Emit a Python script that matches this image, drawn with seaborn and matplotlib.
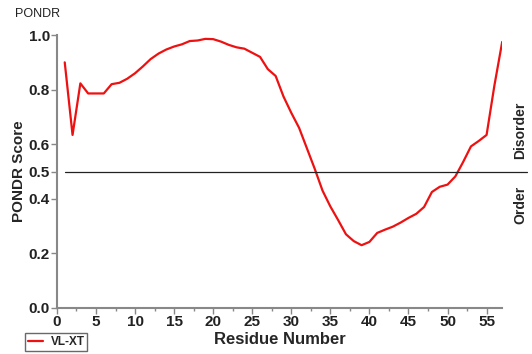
import numpy as np
import pandas as pd
import seaborn as sns
from matplotlib import pyplot as plt
from matplotlib.ticker import MultipleLocator

# PONDR VL-XT scores per residue
residue = np.arange(1, 58)
score = [0.90, 0.634, 0.823, 0.786, 0.786, 0.786, 0.82, 0.825, 0.84, 0.86,
         0.885, 0.912, 0.932, 0.947, 0.958, 0.966, 0.978, 0.980, 0.986, 0.985,
         0.976, 0.964, 0.955, 0.950, 0.935, 0.920, 0.875, 0.850, 0.775, 0.715,
         0.660, 0.585, 0.510, 0.430, 0.372, 0.322, 0.270, 0.245, 0.230, 0.242,
         0.275, 0.287, 0.298, 0.313, 0.330, 0.345, 0.370, 0.425, 0.444, 0.452,
         0.482, 0.535, 0.592, 0.612, 0.634, 0.815, 0.975]
df = pd.DataFrame({'residue': residue, 'score': score})

sns.set_style('white')
plt.rcParams['font.family'] = ['Liberation Sans', 'DejaVu Sans']

fig = plt.figure(figsize=(5.32, 3.54), dpi=100)
ax = fig.add_axes([0.107, 0.13, 0.837, 0.771])

sns.lineplot(data=df, x='residue', y='score', color='#ee1111', lw=1.6, ax=ax, label='VL-XT')
ax.axhline(0.5, xmin=0.018, xmax=1.055, color='#222222', lw=0.9, clip_on=False)

ax.set_xlim(0, 57)
ax.set_ylim(0, 1.0)
ax.set_xticks(np.arange(0, 56, 5))
ax.xaxis.set_minor_locator(MultipleLocator(2.5))
ax.set_yticks([0.0, 0.2, 0.4, 0.5, 0.6, 0.8, 1.0])
ax.set_yticklabels(['0.0', '0.2', '0.4', '0.5', '0.6', '0.8', '1.0'])
ax.tick_params(axis='both', which='major', length=4, width=1, color='#888888',
               labelsize=11, pad=1, bottom=True, left=True)
ax.tick_params(axis='x', which='minor', length=2.5, width=1, color='#888888', bottom=True)
for lab in ax.get_xticklabels() + ax.get_yticklabels():
    lab.set_fontweight('bold')
    lab.set_color('#222222')

sns.despine(ax=ax)
for s in ['left', 'bottom']:
    ax.spines[s].set_color('#888888')
    ax.spines[s].set_linewidth(1.5)

ax.set_xlabel('Residue Number', fontsize=12, fontweight='bold', labelpad=2)
ax.set_ylabel('PONDR Score', fontsize=11, fontweight='bold', labelpad=2)

fig.text(0.028, 0.96, 'PONDR', fontsize=9, va='center', color='#222222')
fig.text(0.978, 0.633, 'Disorder', rotation=90, fontsize=10, fontweight='bold',
         ha='center', va='center')
fig.text(0.978, 0.422, 'Order', rotation=90, fontsize=10, fontweight='bold',
         ha='center', va='center')

ax.get_legend().remove()
h, l = ax.get_legend_handles_labels()
leg = fig.legend(h, l, loc='lower left', bbox_to_anchor=(0.036, -0.008),
                 frameon=True, fancybox=False, handlelength=1.3, borderpad=0.25,
                 handletextpad=0.6, prop={'weight': 'bold', 'size': 8.5})
leg.get_frame().set_edgecolor('#444444')
leg.get_frame().set_linewidth(1)

fig.savefig('out.png', dpi=100)
